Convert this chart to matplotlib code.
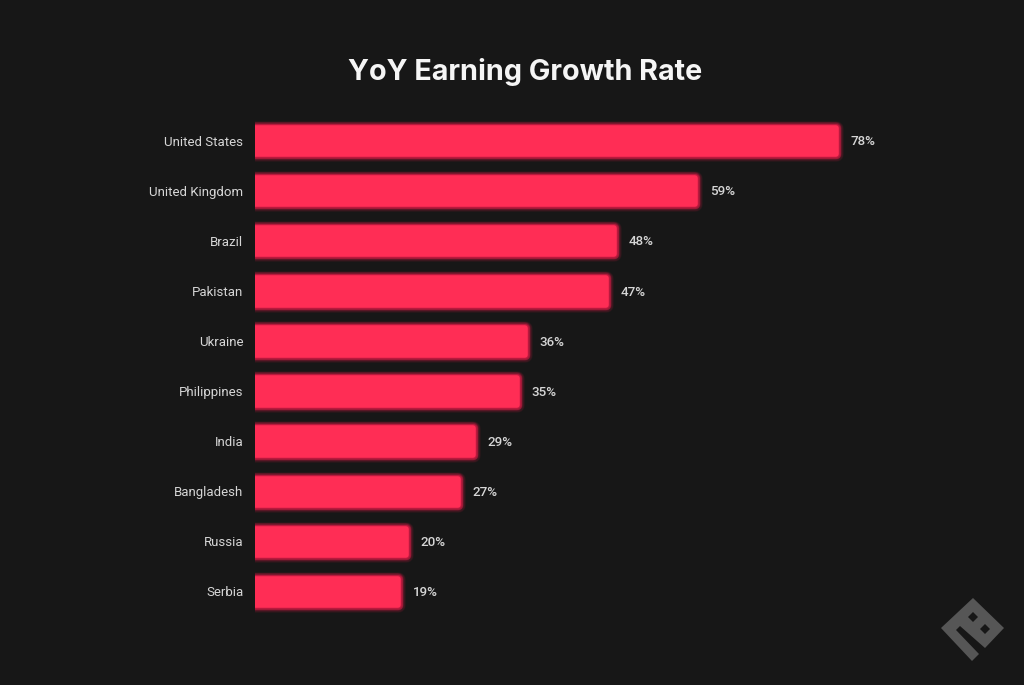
import matplotlib
matplotlib.use("Agg")
import matplotlib.patheffects as pe
import matplotlib.pyplot as plt
from matplotlib.patches import Polygon
from matplotlib.transforms import ScaledTranslation

BACKGROUND = "#171717"
BAR_COLOR = "#ff2d55"
GLOW_COLOR = "#d81b46"
LABEL_COLOR = "#d6d6d6"
TITLE_COLOR = "#f5f5f5"
LOGO_COLOR = "#565656"

countries = [
    "United States",
    "United Kingdom",
    "Brazil",
    "Pakistan",
    "Ukraine",
    "Philippines",
    "India",
    "Bangladesh",
    "Russia",
    "Serbia",
]
growth = [78, 59, 48, 47, 36, 35, 29, 27, 20, 19]

WIDTH, HEIGHT = 1024, 685


def px_box(left, top, right, bottom):
    return [left / WIDTH, 1 - bottom / HEIGHT, (right - left) / WIDTH, (bottom - top) / HEIGHT]


def draw_logo(fig):
    # watermark in the lower right corner, pixel coordinates of the image
    outline = [(973, 598), (1004, 628), (985, 648), (960, 626), (956, 630),
               (979, 654), (972, 661), (941, 628)]
    dots = [[(973, 612), (978, 617), (973, 622), (968, 617)],
            [(985, 624), (990, 629), (985, 634), (980, 629)]]
    to_fig = lambda pts: [(x / WIDTH, 1 - y / HEIGHT) for x, y in pts]
    fig.add_artist(Polygon(to_fig(outline), closed=True, color=LOGO_COLOR, lw=0))
    for dot in dots:
        fig.add_artist(Polygon(to_fig(dot), closed=True, color=BACKGROUND, lw=0))


def main():
    fig = plt.figure(figsize=(WIDTH / 100, HEIGHT / 100), dpi=100, facecolor=BACKGROUND)
    ax = fig.add_axes(px_box(255, 100, 1000, 640))
    ax.set_facecolor(BACKGROUND)

    y_pos = list(range(len(countries)))
    x_min = -0.33
    ax.set_xlim(x_min, x_min + 745 / 7.42)
    ax.set_ylim(9.96, -0.82)

    lefts = [x_min - 5] * len(growth)
    widths = [v - l for v, l in zip(growth, lefts)]
    bars = ax.barh(y_pos, widths, left=lefts, height=0.527, color=BAR_COLOR, linewidth=0)

    # stacked wide strokes make the soft glow, the solid one rounds the corners
    glow = [pe.Stroke(linewidth=w, foreground=GLOW_COLOR, alpha=a, joinstyle="round")
            for w, a in [(10.5, 0.08), (9.5, 0.12), (8.5, 0.18), (7.5, 0.28), (6.5, 0.4), (5.5, 0.55)]]
    glow.append(pe.Stroke(linewidth=4, foreground=BAR_COLOR, joinstyle="round"))
    glow.append(pe.Normal())
    for bar in bars:
        bar.set_path_effects(glow)

    for y, v in zip(y_pos, growth):
        ax.annotate(f"{v}%", (v, y), xytext=(10.6, -0.5), textcoords="offset points",
                    color=LABEL_COLOR, fontsize=9.6, family="Roboto", fontweight="medium",
                    ha="left", va="center")

    ax.set_yticks(y_pos, countries)
    ax.set_xticks([])
    ax.tick_params(axis="y", length=0, pad=8.5, labelcolor=LABEL_COLOR, labelsize=9.5)
    shift = ScaledTranslation(0, 0.5 / 100, fig.dpi_scale_trans)
    for label in ax.get_yticklabels():
        label.set_family("Roboto")
        label.set_transform(label.get_transform() + shift)
    for spine in ax.spines.values():
        spine.set_visible(False)

    fig.text(525 / WIDTH, 1 - 72 / HEIGHT, "YoY Earning Growth Rate", color=TITLE_COLOR,
             fontsize=20.7, fontweight="bold", family="Inter", ha="center", va="center")

    draw_logo(fig)
    fig.savefig("out.png", dpi=100, facecolor=BACKGROUND)


if __name__ == "__main__":
    main()
